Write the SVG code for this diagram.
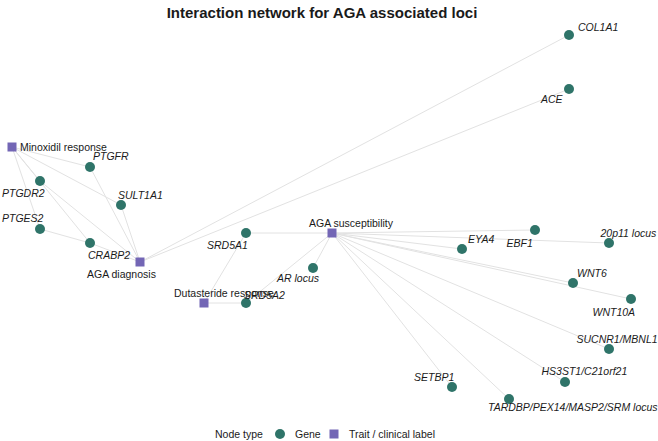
<svg xmlns="http://www.w3.org/2000/svg" width="658" height="441" viewBox="0 0 658 441">
<style>
.e{stroke:#e2e2e2;stroke-width:1;fill:none}
.g{fill:#2f7469}
.t{fill:#7366b5}
.gl{font-family:"Liberation Sans",Arial,sans-serif;font-size:10.5px;font-style:italic;fill:#1a1a1a}
.tl{font-family:"Liberation Sans",Arial,sans-serif;font-size:10.5px;fill:#1a1a1a}
.title{font-family:"Liberation Sans",Arial,sans-serif;font-size:15px;font-weight:bold;fill:#1a1a1a}
</style>
<rect width="658" height="441" fill="#ffffff"/>
<text class="title" x="322" y="18" text-anchor="middle">Interaction network for AGA associated loci</text>
<g id="edges">
<line class="e" x1="12" y1="147" x2="90" y2="167"/>
<line class="e" x1="12" y1="147" x2="121" y2="205"/>
<line class="e" x1="12" y1="147" x2="40" y2="181"/>
<line class="e" x1="12" y1="147" x2="40" y2="229"/>
<line class="e" x1="12" y1="147" x2="90" y2="243"/>
<line class="e" x1="40" y1="181" x2="140" y2="262"/>
<line class="e" x1="90" y1="167" x2="140" y2="262"/>
<line class="e" x1="121" y1="205" x2="140" y2="262"/>
<line class="e" x1="90" y1="243" x2="140" y2="262"/>
<line class="e" x1="40" y1="229" x2="90" y2="243"/>
<line class="e" x1="140" y1="262" x2="569" y2="35"/>
<line class="e" x1="140" y1="262" x2="569" y2="89"/>
<line class="e" x1="204" y1="303" x2="246" y2="303"/>
<line class="e" x1="204" y1="303" x2="246" y2="233"/>
<line class="e" x1="332" y1="233" x2="246" y2="233"/>
<line class="e" x1="332" y1="233" x2="313" y2="268"/>
<line class="e" x1="332" y1="233" x2="246" y2="303"/>
<line class="e" x1="332" y1="233" x2="462" y2="249"/>
<line class="e" x1="332" y1="233" x2="535" y2="230"/>
<line class="e" x1="332" y1="233" x2="609" y2="243"/>
<line class="e" x1="332" y1="233" x2="573" y2="283"/>
<line class="e" x1="332" y1="233" x2="631" y2="299"/>
<line class="e" x1="332" y1="233" x2="609" y2="349"/>
<line class="e" x1="332" y1="233" x2="565" y2="382"/>
<line class="e" x1="332" y1="233" x2="509" y2="399"/>
<line class="e" x1="332" y1="233" x2="452" y2="387"/>
</g>
<g id="n-minoxidil"><rect class="t" x="7.5" y="142.5" width="9" height="9"/><text class="tl" x="20" y="151">Minoxidil response</text></g>
<g id="n-agadiag"><rect class="t" x="135.5" y="257.5" width="9" height="9"/><text class="tl" x="87" y="278">AGA diagnosis</text></g>
<g id="n-agasusc"><rect class="t" x="327.5" y="228.5" width="9" height="9"/><text class="tl" x="309" y="227">AGA susceptibility</text></g>
<g id="n-dutasteride"><rect class="t" x="199.5" y="298.5" width="9" height="9"/><text class="tl" x="174" y="296.5">Dutasteride response</text></g>
<g id="n-col1a1"><circle class="g" cx="569" cy="35" r="5"/><text class="gl" x="578" y="30.5">COL1A1</text></g>
<g id="n-ace"><circle class="g" cx="569" cy="89" r="5"/><text class="gl" x="541" y="103">ACE</text></g>
<g id="n-ptgfr"><circle class="g" cx="90" cy="167" r="5"/><text class="gl" x="93" y="160">PTGFR</text></g>
<g id="n-ptgdr2"><circle class="g" cx="40" cy="181" r="5"/><text class="gl" x="2" y="196.5">PTGDR2</text></g>
<g id="n-sult1a1"><circle class="g" cx="121" cy="205" r="5"/><text class="gl" x="118" y="199">SULT1A1</text></g>
<g id="n-ptges2"><circle class="g" cx="40" cy="229" r="5"/><text class="gl" x="2" y="222">PTGES2</text></g>
<g id="n-crabp2"><circle class="g" cx="90" cy="243" r="5"/><text class="gl" x="88" y="259">CRABP2</text></g>
<g id="n-srd5a1"><circle class="g" cx="246" cy="233" r="5"/><text class="gl" x="207" y="249">SRD5A1</text></g>
<g id="n-arlocus"><circle class="g" cx="313" cy="268" r="5"/><text class="gl" x="277" y="282">AR locus</text></g>
<g id="n-srd5a2"><circle class="g" cx="246" cy="303" r="5"/><text class="gl" x="244" y="299">SRD5A2</text></g>
<g id="n-eya4"><circle class="g" cx="462" cy="249" r="5"/><text class="gl" x="468" y="243">EYA4</text></g>
<g id="n-ebf1"><circle class="g" cx="535" cy="230" r="5"/><text class="gl" x="506.5" y="247">EBF1</text></g>
<g id="n-20p11"><circle class="g" cx="609" cy="243" r="5"/><text class="gl" x="600.5" y="236.5">20p11 locus</text></g>
<g id="n-wnt6"><circle class="g" cx="573" cy="283" r="5"/><text class="gl" x="577" y="276.5">WNT6</text></g>
<g id="n-wnt10a"><circle class="g" cx="631" cy="299" r="5"/><text class="gl" x="592.5" y="316">WNT10A</text></g>
<g id="n-sucnr1"><circle class="g" cx="609" cy="349" r="5"/><text class="gl" x="576.5" y="343">SUCNR1/MBNL1</text></g>
<g id="n-hs3st1"><circle class="g" cx="565" cy="382" r="5"/><text class="gl" x="541.5" y="374.5">HS3ST1/C21orf21</text></g>
<g id="n-setbp1"><circle class="g" cx="452" cy="387" r="5"/><text class="gl" x="414" y="380.5">SETBP1</text></g>
<g id="n-tardbp"><circle class="g" cx="509" cy="399" r="5"/><text class="gl" x="488" y="411">TARDBP/PEX14/MASP2/SRM locus</text></g>
<g id="legend">
<text class="tl" x="215" y="437.5">Node type</text>
<circle class="g" cx="280" cy="434" r="5"/>
<text class="tl" x="295" y="437.5">Gene</text>
<rect class="t" x="329.5" y="429.5" width="9" height="9"/>
<text class="tl" x="349" y="437.5">Trait / clinical label</text>
</g>
</svg>
